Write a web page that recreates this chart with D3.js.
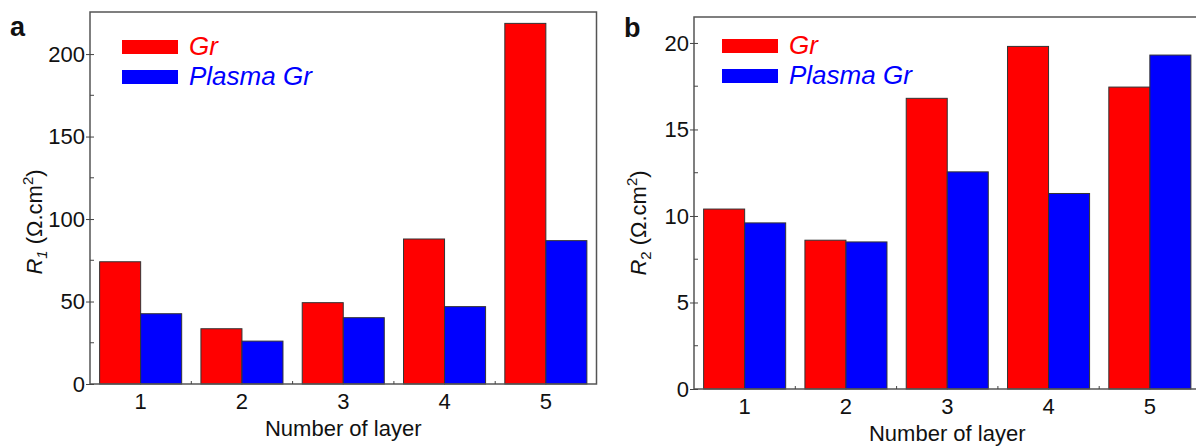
<!DOCTYPE html>
<html>
<head>
<meta charset="utf-8">
<script src="https://cdn.jsdelivr.net/npm/d3@7"></script>
<style>
  body { margin: 0; background: #fff; }
  svg { display: block; font-family: "Liberation Sans", Arial, Helvetica, sans-serif; }
</style>
</head>
<body>
<svg id="chart" width="1196" height="446"></svg>
<script>
// values
const layers = ["1", "2", "3", "4", "5"];
const seriesNames = ["Gr", "Plasma Gr"];
const seriesColors = ["#ff0000", "#0000ff"];

const r1Gr = [74.1, 33.5, 49.3, 87.9, 218.6];
const r1Plasma = [42.6, 26.0, 40.2, 46.9, 86.9];
const r1Ticks = [0, 50, 100, 150, 200];
const r1Minor = [25, 75, 125, 175];

const r2Gr = [10.4, 8.6, 16.8, 19.8, 17.45];
const r2Plasma = [9.6, 8.5, 12.55, 11.3, 19.3];
const r2Ticks = [0, 5, 10, 15, 20];
const r2Minor = [2.5, 7.5, 12.5, 17.5];

const svg = d3.select("#chart");

function drawPanel(cfg) {
  const g = svg.append("g");
  const x = d3.scaleBand()
    .domain(layers)
    .range([cfg.left, cfg.left + cfg.width])
    .paddingInner(0.19)
    .paddingOuter(0.095);
  const xs = d3.scaleBand().domain(seriesNames).range([0, x.bandwidth()]);
  const y = d3.scaleLinear().domain([0, cfg.ymax]).range([cfg.bottom, cfg.top]);

  const rows = layers.map((l, i) => ({ layer: l, vals: [cfg.gr[i], cfg.plasma[i]] }));

  // bars
  g.append("g").selectAll("g")
    .data(rows)
    .join("g")
      .attr("transform", d => `translate(${x(d.layer)},0)`)
    .selectAll("rect")
    .data(d => d.vals.map((v, k) => ({ v: v, k: k })))
    .join("rect")
      .attr("x", d => xs(seriesNames[d.k]))
      .attr("y", d => y(d.v))
      .attr("width", xs.bandwidth())
      .attr("height", d => y(0) - y(d.v))
      .attr("fill", d => seriesColors[d.k])
      .attr("stroke", "#333")
      .attr("stroke-width", 1);

  // frame (left, top, right, bottom)
  g.append("path")
    .attr("d", `M${cfg.left},${cfg.bottom}V${cfg.top}H${cfg.left + cfg.width}V${cfg.bottom}Z`)
    .attr("fill", "none")
    .attr("stroke", "#555")
    .attr("stroke-width", 1.5);

  // y axis
  const yAxis = d3.axisLeft(y).tickValues(cfg.ticks).tickSize(4).tickPadding(1);
  const ya = g.append("g").attr("transform", `translate(${cfg.left},0)`).call(yAxis);
  ya.select(".domain").remove();
  ya.selectAll(".tick line").attr("x2", 4).attr("x1", -4).attr("stroke", "#444");
  ya.selectAll(".tick text")
    .attr("font-size", 22)
    .attr("fill", "#111")
    .attr("font-family", "Liberation Sans, Arial, sans-serif");
  g.append("g").selectAll("line")
    .data(cfg.minor)
    .join("line")
      .attr("x1", cfg.left).attr("x2", cfg.left + 4)
      .attr("y1", d => y(d)).attr("y2", d => y(d))
      .attr("stroke", "#444");

  // x axis: labels at band centres, small ticks between groups
  const xa = g.append("g").attr("transform", `translate(0,${cfg.bottom})`)
    .call(d3.axisBottom(x).tickSize(0).tickPadding(9));
  xa.select(".domain").remove();
  xa.selectAll(".tick text")
    .attr("font-size", 22)
    .attr("fill", "#111")
    .attr("font-family", "Liberation Sans, Arial, sans-serif");
  g.append("g").selectAll("line")
    .data(layers.slice(1))
    .join("line")
      .attr("x1", d => x(d) - x.step() * x.paddingInner() / 2)
      .attr("x2", d => x(d) - x.step() * x.paddingInner() / 2)
      .attr("y1", cfg.bottom).attr("y2", cfg.bottom - 3)
      .attr("stroke", "#444");

  g.append("text")
    .attr("x", cfg.left + cfg.width / 2)
    .attr("y", cfg.bottom + 52)
    .attr("text-anchor", "middle")
    .attr("font-size", 22)
    .attr("fill", "#111")
    .text("Number of layer");

  // y label with sub / superscripts
  const yl = g.append("text")
    .attr("transform", `translate(${cfg.left - 48},${cfg.labelY}) rotate(-90)`)
    .attr("text-anchor", "middle")
    .attr("font-size", 22)
    .attr("fill", "#111");
  yl.append("tspan").attr("font-style", "italic").text("R");
  yl.append("tspan").attr("font-style", cfg.subItalic ? "italic" : "normal")
    .attr("font-size", 15).attr("dy", 5).text(cfg.sub);
  yl.append("tspan").attr("dy", -5).text(" (\u03A9.cm");
  yl.append("tspan").attr("font-size", 15).attr("dy", -9).text("2");
  yl.append("tspan").attr("dy", 9).text(")");

  // legend
  const lg = g.append("g");
  seriesNames.forEach((name, k) => {
    lg.append("rect")
      .attr("x", cfg.legendX)
      .attr("y", cfg.legendY + k * 30)
      .attr("width", 56)
      .attr("height", 14)
      .attr("fill", seriesColors[k]);
    lg.append("text")
      .attr("x", cfg.legendX + 67)
      .attr("y", cfg.legendY + k * 30 + 15)
      .attr("font-size", 26)
      .attr("font-style", "italic")
      .attr("fill", seriesColors[k])
      .text(name);
  });

  // panel letter
  g.append("text")
    .attr("x", cfg.letterX)
    .attr("y", cfg.letterY)
    .attr("font-size", 27)
    .attr("font-weight", "bold")
    .attr("fill", "#111")
    .text(cfg.letter);
}

drawPanel({
  left: 90, width: 506.5, top: 12, bottom: 384, ymax: 225.5,
  gr: r1Gr, plasma: r1Plasma, ticks: r1Ticks, minor: r1Minor,
  sub: "1", subItalic: true, labelY: 222,
  legendX: 122, legendY: 40, letter: "a", letterX: 10, letterY: 36
});

drawPanel({
  left: 694, width: 506.5, top: 17, bottom: 389, ymax: 21.5,
  gr: r2Gr, plasma: r2Plasma, ticks: r2Ticks, minor: r2Minor,
  sub: "2", subItalic: false, labelY: 223,
  legendX: 722, legendY: 39, letter: "b", letterX: 624, letterY: 37
});
</script>
</body>
</html>
